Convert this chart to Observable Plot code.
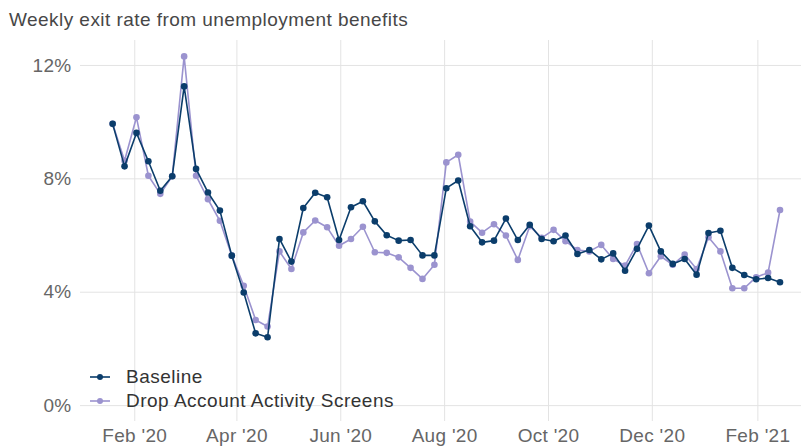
<!DOCTYPE html>
<html>
<head>
<meta charset="utf-8">
<script src="https://cdn.jsdelivr.net/npm/d3@7"></script>
<script src="https://cdn.jsdelivr.net/npm/@observablehq/plot@0.6"></script>
<style>
  body { margin: 0; background: #fff; }
  #wrap { position: relative; width: 801px; height: 447px; overflow: hidden; font-family: "Liberation Sans", Arial, sans-serif; }
  #title { position: absolute; top: 10px; left: 9px; font-size: 19px; line-height: 19px; color: #474747; white-space: nowrap; letter-spacing: 0.45px; }
  #chart { position: absolute; top: 30px; left: 0; }
  #legend { position: absolute; left: 88px; top: 365px; font-size: 19px; color: #333; letter-spacing: 0.5px; }
  .row { display: flex; align-items: center; height: 24px; line-height: 24px; white-space: nowrap; }
  .row svg { margin-right: 14px; }
  #chart svg text { letter-spacing: 0.3px; }
</style>
</head>
<body>
<div id="wrap">
  <div id="title">Weekly exit rate from unemployment benefits</div>
  <div id="chart"></div>
  <div id="legend"></div>
</div>
<script>
const weeks = [
  "2020-01-19","2020-01-26","2020-02-02","2020-02-09","2020-02-16","2020-02-23",
  "2020-03-01","2020-03-08","2020-03-15","2020-03-22","2020-03-29",
  "2020-04-05","2020-04-12","2020-04-19","2020-04-26",
  "2020-05-03","2020-05-10","2020-05-17","2020-05-24","2020-05-31",
  "2020-06-07","2020-06-14","2020-06-21","2020-06-28",
  "2020-07-05","2020-07-12","2020-07-19","2020-07-26",
  "2020-08-02","2020-08-09","2020-08-16","2020-08-23","2020-08-30",
  "2020-09-06","2020-09-13","2020-09-20","2020-09-27",
  "2020-10-04","2020-10-11","2020-10-18","2020-10-25",
  "2020-11-01","2020-11-08","2020-11-15","2020-11-22","2020-11-29",
  "2020-12-06","2020-12-13","2020-12-20","2020-12-27",
  "2021-01-03","2021-01-10","2021-01-17","2021-01-24","2021-01-31",
  "2021-02-07","2021-02-14"
];
const baseline = [9.94, 8.44, 9.62, 8.62, 7.58, 8.09, 11.26, 8.35, 7.52, 6.88,
  5.29, 3.99, 2.55, 2.41, 5.88, 5.08, 6.97, 7.51, 7.35, 5.84,
  7.00, 7.21, 6.50, 6.01, 5.82, 5.84, 5.30, 5.30, 7.67, 7.94,
  6.33, 5.76, 5.82, 6.60, 5.84, 6.38, 5.88, 5.80, 6.00, 5.35,
  5.49, 5.16, 5.37, 4.76, 5.53, 6.35, 5.44, 5.00, 5.17, 4.62,
  6.09, 6.17, 4.86, 4.61, 4.46, 4.50, 4.35];
const dropScreens = [9.94, 8.64, 10.17, 8.11, 7.47, 8.09, 12.32, 8.11, 7.28, 6.52,
  5.29, 4.23, 3.02, 2.79, 5.44, 4.82, 6.11, 6.53, 6.29, 5.64,
  5.88, 6.31, 5.41, 5.39, 5.23, 4.86, 4.47, 4.97, 8.58, 8.85,
  6.49, 6.10, 6.40, 6.00, 5.14, 6.33, 5.92, 6.20, 5.80, 5.49,
  5.44, 5.67, 5.17, 4.94, 5.70, 4.67, 5.27, 4.97, 5.33, 4.82,
  5.94, 5.44, 4.14, 4.14, 4.53, 4.69, 6.90];
const seriesNames = ["Baseline", "Drop Account Activity Screens"];
const seriesColors = ["#0b3d6b", "#9b93cf"];
const xTickDates = ["2020-02-01","2020-04-01","2020-06-01","2020-08-01","2020-10-01","2020-12-01","2021-02-01"];
const yTicks = [0, 4, 8, 12];

const parse = d3.utcParse("%Y-%m-%d");
const mk = (vals, name) => weeks.map((w, i) => ({date: parse(w), value: vals[i], series: name}));
const baseRows = mk(baseline, seriesNames[0]);
const dropRows = mk(dropScreens, seriesNames[1]);
const xTicks = xTickDates.map(parse);

const chart = Plot.plot({
  width: 801,
  height: 417,
  marginLeft: 80,
  marginRight: 0,
  marginTop: 10,
  marginBottom: 26,
  style: {fontFamily: '"Liberation Sans", Arial, sans-serif', fontSize: "19px", color: "#666", background: "transparent", overflow: "visible"},
  x: {type: "utc", domain: [new Date(Date.UTC(2019, 11, 31, 3)), new Date(Date.UTC(2021, 1, 26, 15))]},
  y: {domain: [-0.56, 12.88]},
  marks: [
    Plot.gridX(xTicks, {stroke: "#e3e3e3", strokeOpacity: 1}),
    Plot.gridY(yTicks, {stroke: "#e3e3e3", strokeOpacity: 1}),
    Plot.axisX(xTicks, {tickSize: 0, tickPadding: 7, tickFormat: d3.utcFormat("%b '%y"), label: null}),
    Plot.axisY(yTicks, {tickSize: 0, tickPadding: 9, tickFormat: d => d + "%", label: null}),
    Plot.line(dropRows, {x: "date", y: "value", stroke: seriesColors[1], strokeWidth: 1.6}),
    Plot.dot(dropRows, {x: "date", y: "value", fill: seriesColors[1], r: 3.3}),
    Plot.line(baseRows, {x: "date", y: "value", stroke: seriesColors[0], strokeWidth: 1.6}),
    Plot.dot(baseRows, {x: "date", y: "value", fill: seriesColors[0], r: 3.3})
  ]
});
document.getElementById("chart").appendChild(chart);

const legend = document.getElementById("legend");
seriesNames.forEach((name, i) => {
  const row = document.createElement("div");
  row.className = "row";
  row.innerHTML = `<svg width="24" height="10"><line x1="2" x2="22" y1="5" y2="5" stroke="${seriesColors[i]}" stroke-width="1.6"/><circle cx="12" cy="5" r="3" fill="${seriesColors[i]}"/></svg><span>${name}</span>`;
  legend.appendChild(row);
});
</script>
</body>
</html>
